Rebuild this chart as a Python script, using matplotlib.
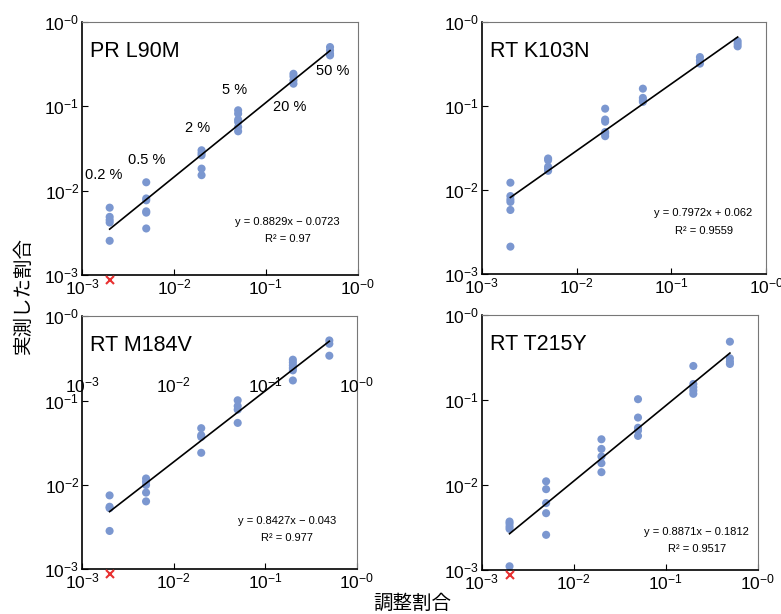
import numpy as np
import matplotlib
matplotlib.use("Agg")
import matplotlib.pyplot as plt

plt.rcParams['font.family'] = ['Liberation Sans', 'Noto Sans CJK JP', 'DejaVu Sans']
plt.rcParams['mathtext.fontset'] = 'custom'
plt.rcParams['mathtext.rm'] = 'Liberation Sans'
plt.rcParams['mathtext.it'] = 'Liberation Sans:italic'

# prepared mixing ratios
levels = [0.002, 0.005, 0.02, 0.05, 0.2, 0.5]
level_labels = ["0.2 %", "0.5 %", "2 %", "5 %", "20 %", "50 %"]
tick_vals = [1e-3, 1e-2, 1e-1, 1e0]
tick_labels = [r"$\mathregular{10^{-3}}$", r"$\mathregular{10^{-2}}$",
               r"$\mathregular{10^{-1}}$", r"$\mathregular{10^{-0}}$"]

titles = ["PR L90M", "RT K103N", "RT M184V", "RT T215Y"]

# measured ratios, one list per level
pr_l90m = [
    [0.0063, 0.0049, 0.0045, 0.0042, 0.00255],
    [0.0126, 0.0081, 0.0077, 0.0057, 0.0055, 0.00357],
    [0.0302, 0.028, 0.0263, 0.0183, 0.0153],
    [0.090, 0.082, 0.0697, 0.0655, 0.057, 0.0507],
    [0.244, 0.227, 0.204, 0.186],
    [0.506, 0.462, 0.422, 0.403],
]
rt_k103n = [
    [0.0122, 0.00845, 0.0077, 0.0072, 0.00577, 0.00211],
    [0.0237, 0.0226, 0.0189, 0.018, 0.0169],
    [0.093, 0.069, 0.065, 0.049, 0.047, 0.0437],
    [0.161, 0.125, 0.117, 0.112],
    [0.383, 0.35, 0.32],
    [0.594, 0.553, 0.514],
]
rt_m184v = [
    [0.0075, 0.0055, 0.0053, 0.00284],
    [0.0119, 0.0109, 0.00995, 0.0081, 0.00637],
    [0.047, 0.0388, 0.037, 0.024],
    [0.1007, 0.086, 0.078, 0.0543],
    [0.305, 0.283, 0.261, 0.243, 0.228, 0.173],
    [0.516, 0.471, 0.34],
]
rt_t215y = [
    [0.0037, 0.0035, 0.00323, 0.00303, 0.0011],
    [0.011, 0.0089, 0.0061, 0.00464, 0.00258],
    [0.0344, 0.0265, 0.0216, 0.018, 0.0141],
    [0.102, 0.062, 0.047, 0.0436, 0.0377],
    [0.251, 0.154, 0.141, 0.129, 0.118],
    [0.485, 0.309, 0.283, 0.265],
]
series = [pr_l90m, rt_k103n, rt_m184v, rt_t215y]

# fits in log space: log y = a log x + b
slopes = [0.8829, 0.7972, 0.8427, 0.8871]
intercepts = [-0.0723, 0.062, -0.043, -0.1812]
r2 = ["0.97", "0.9559", "0.977", "0.9517"]
eq_text = ["y = 0.8829x \u2212 0.0723", "y = 0.7972x + 0.062",
           "y = 0.8427x \u2212 0.043", "y = 0.8871x \u2212 0.1812"]

# undetected samples (drawn just under the axis)
undetected = [True, False, True, True]
undet_y = 0.00087

positions = [
    [0.105, 0.552, 0.353, 0.412],
    [0.617, 0.554, 0.364, 0.410],
    [0.105, 0.073, 0.352, 0.412],
    [0.617, 0.072, 0.353, 0.415],
]
eq_pos = [(0.745, 0.21), (0.78, 0.24), (0.745, 0.19), (0.78, 0.15)]

dot_color = "#7b97d0"

fig = plt.figure(figsize=(7.81, 6.14), dpi=100)

for i in range(4):
    ax = fig.add_axes(positions[i])
    ax.set_xscale("log")
    ax.set_yscale("log")
    ax.set_xlim(1e-3, 1)
    ax.set_ylim(1e-3, 1)

    for lv, ys in zip(levels, series[i]):
        ax.scatter([lv] * len(ys), ys, s=34, color=dot_color, edgecolors="none", zorder=2)

    xl = np.array([levels[0], levels[-1]])
    yl = 10 ** (slopes[i] * np.log10(xl) + intercepts[i])
    ax.plot(xl, yl, color="black", lw=1.2, zorder=3)

    if undetected[i]:
        ax.plot([levels[0]], [undet_y], marker="x", color="#e83030", ms=6, mew=1.5,
                ls="none", clip_on=False, zorder=4)

    ax.set_xticks(tick_vals)
    ax.set_xticklabels(tick_labels)
    ax.set_yticks(tick_vals)
    ax.set_yticklabels(tick_labels)
    ax.minorticks_off()
    ax.tick_params(direction="in", length=4, width=0.8, labelsize=12.5, pad=2)

    for side in ["top", "right"]:
        ax.spines[side].set_color("#777777")
    for side in ["left", "bottom"]:
        ax.spines[side].set_color("black")
        ax.spines[side].set_linewidth(1.2)

    ax.text(0.03, 0.885, titles[i], transform=ax.transAxes, fontsize=15.5, va="center")
    ex, ey = eq_pos[i]
    ax.text(ex, ey, eq_text[i], transform=ax.transAxes, fontsize=8, ha="center", va="center")
    ax.text(ex, ey - 0.068, "R\u00b2 = " + r2[i], transform=ax.transAxes, fontsize=8,
            ha="center", va="center")

    if i == 0:
        lab_pos = [(0.078, 0.395), (0.233, 0.455), (0.418, 0.58), (0.554, 0.73),
                   (0.755, 0.665), (0.91, 0.805)]
        for (lx, ly), txt in zip(lab_pos, level_labels):
            ax.text(lx, ly, txt, transform=ax.transAxes, fontsize=10.5, ha="center", va="center")

    if i == 2:
        # stray copy of the x tick labels inside the panel
        for tv, tl in zip(tick_vals, tick_labels):
            ax.text(tv, 0.727, tl, transform=ax.get_xaxis_transform(), fontsize=12.5,
                    ha="center", va="center", clip_on=False)

fig.text(0.03, 0.518, "実測した割合", rotation=90, fontsize=14, ha="center", va="center",
         family=["Noto Sans CJK JP", "DejaVu Sans"])
fig.text(0.528, 0.018, "調整割合", fontsize=14, ha="center", va="center",
         family=["Noto Sans CJK JP", "DejaVu Sans"])

fig.savefig("out.png", dpi=100)
